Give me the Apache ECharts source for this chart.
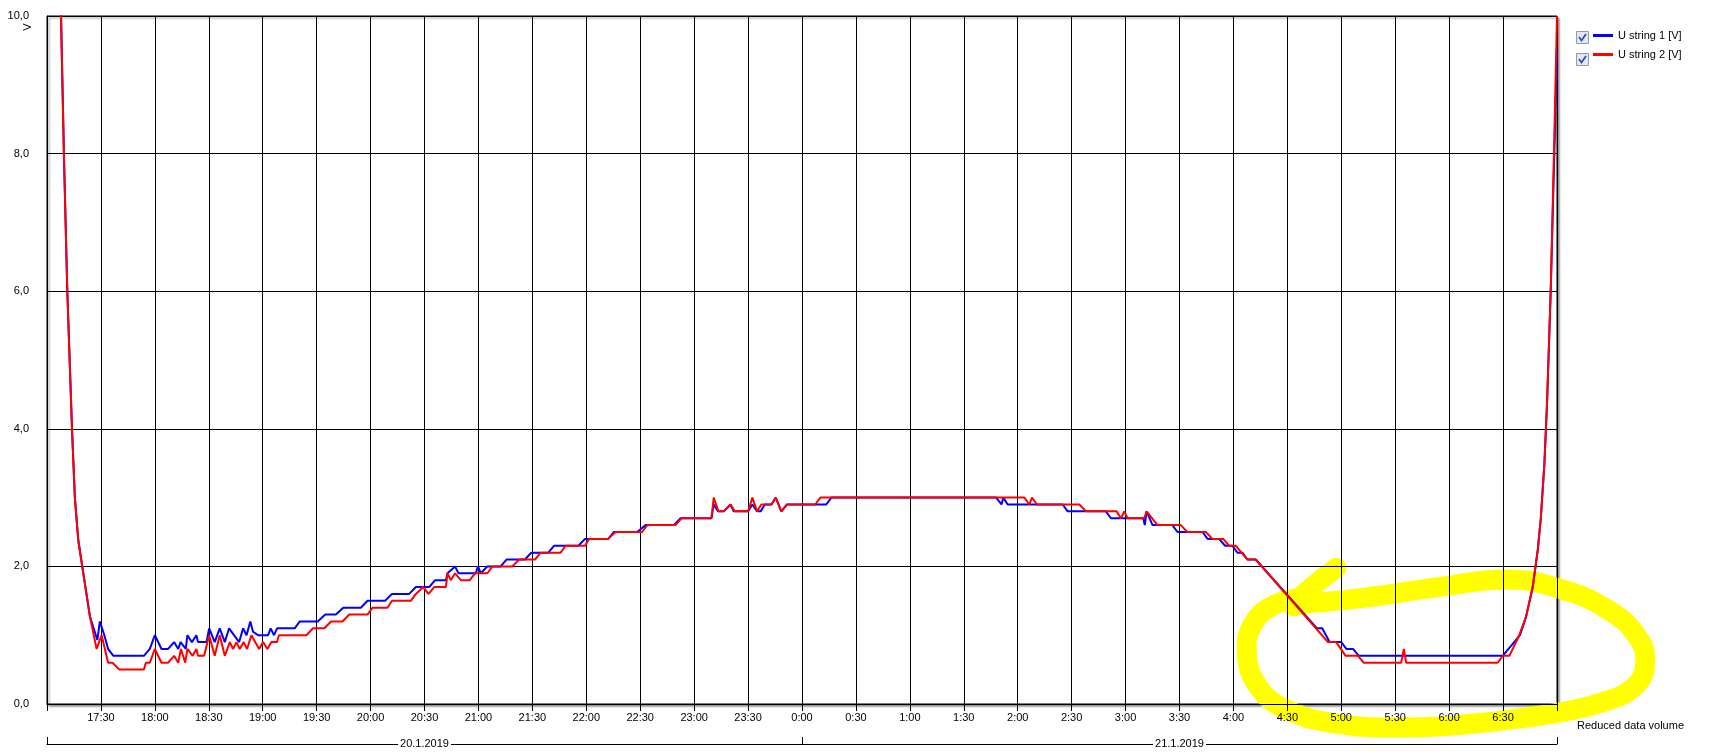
<!DOCTYPE html>
<html>
<head>
<meta charset="utf-8">
<script src="https://cdn.jsdelivr.net/npm/echarts@6/dist/echarts.min.js"></script>
<style>
html,body{margin:0;padding:0;background:#fff;}
#chart{width:1715px;height:754px;}
</style>
</head>
<body>
<div id="chart"></div>
<script>
// Time in minutes after 17:00 on 20.1.2019, value in V
const seriesNames = ['U string 1 [V]', 'U string 2 [V]'];
const dateLabels = ['20.1.2019', '21.1.2019'];
const yUnit = 'V';
const footNote = 'Reduced data volume';
const startHour = 17;

const u1 = [
[6,12.5],[7.8,10],[9.4,8],[11.3,6],[13.9,4],[15.5,3.0],[17.4,2.38],[20.2,1.9],[23.9,1.27],
[28,0.93],[29.4,1.2],[31.9,1.0],[34,0.8],[36.9,0.7],[53.9,0.7],[57.2,0.8],[60,1.0],[63.7,0.8],[67.4,0.8],
[70.7,0.9],[73,0.8],[74.3,0.9],[77.2,0.8],[78.1,1.0],[80.6,0.9],[83.1,1.0],[84,0.9],[88.7,0.9],[90.2,1.1],
[93.3,0.9],[96.1,1.1],[98.9,0.9],[101.3,1.1],[104,1.0],[106.9,0.9],[109.1,1.1],[111,1.0],[113.1,1.2],
[114.6,1.05],[117.4,1.0],[123,1.0],[124.4,1.1],[126.3,1.0],[128,1.1],[137.8,1.1],[140.6,1.2],[150.6,1.2],
[154.8,1.3],[160.7,1.3],[164.8,1.4],[174.6,1.4],[178.3,1.5],[188.1,1.5],[191.9,1.6],[201.5,1.6],[205.2,1.7],
[212.6,1.7],[215.9,1.8],[221.9,1.8],[222.8,1.9],[227,2.0],[228.9,1.9],[238.5,1.9],[239.8,2.0],[241.3,1.9],
[245,2.0],[252.4,2.0],[255.6,2.1],[265.9,2.1],[269.4,2.2],[278.9,2.2],[282,2.3],[295.6,2.3],[299.3,2.4],
[312.2,2.4],[315.4,2.5],[328.3,2.5],[333,2.6],[348.7,2.6],[352.4,2.7],[369.6,2.7],[370.9,2.9],[373.3,2.8],
[376.5,2.8],[380.2,2.9],[382,2.8],[390,2.8],[392.4,2.9],[395,2.8],[397,2.8],[399.3,2.9],[403,2.9],
[405.4,3.0],[408.5,2.8],[411.7,2.9],[433.5,2.9],[436.3,3.0],[528,3.0],[531,2.9],[532,3.0],[534.4,2.9],
[565,2.9],[567.8,2.8],[589,2.8],[591.9,2.7],[609.8,2.7],[610.7,2.6],[611.7,2.8],[615,2.6],[626,2.6],
[628.9,2.5],[642.8,2.5],[645.6,2.4],[652,2.4],[655.4,2.3],[659.4,2.3],[662.2,2.2],[665,2.2],[667.8,2.1],
[672.4,2.1],[706.5,1.1],[709.4,1.1],[713.5,0.9],[720,0.9],[722.8,0.8],[726.5,0.8],[729.8,0.7],[809.8,0.7],
[819.4,1.0],[822.8,1.27],[826.5,1.7],[829.3,2.24],[831,2.7],[833,3.5],[834.5,4.4],[836.5,6.0],[838.5,8.0],[840,9.5]
];

const u2 = [
[6,12.5],[7.8,10],[9.4,8],[11.3,6],[13.9,4],[15.5,3.0],[17.4,2.38],[20.2,1.9],[23.9,1.27],
[27.6,0.8],[28.5,0.8],[30.4,1.0],[34,0.6],[36.5,0.6],[40.2,0.5],[53.9,0.5],[55,0.6],[57.2,0.6],[60,0.8],
[63.7,0.6],[67.4,0.6],[70.7,0.7],[73,0.6],[74.5,0.8],[76.9,0.6],[78.1,0.8],[81,0.7],[83.1,0.8],[84,0.7],
[87.4,0.7],[90.2,1.0],[93.3,0.7],[96.1,1.0],[98.9,0.7],[101.7,0.9],[103.5,0.8],[105.4,0.9],[107.2,0.8],
[109.4,0.9],[111.3,0.8],[113.7,1.0],[118,0.8],[120.2,0.9],[122.6,0.8],[124.8,0.9],[128,0.9],[129,1.0],
[144.3,1.0],[148,1.1],[154.3,1.1],[158,1.2],[164.4,1.2],[168.1,1.3],[178.3,1.3],[181.1,1.4],[189.4,1.4],
[191.9,1.5],[202.4,1.5],[205.2,1.6],[209.3,1.7],[212.2,1.6],[215.4,1.7],[221.9,1.7],[222.8,1.9],[224.6,1.8],
[227,1.9],[230.2,1.8],[235.2,1.8],[238.1,1.9],[245,1.9],[247.8,2.0],[258.9,2.0],[262.6,2.1],[271.5,2.1],
[274.6,2.2],[285.7,2.2],[288.5,2.3],[299.3,2.3],[301.5,2.4],[312.2,2.4],[316.3,2.5],[331.1,2.5],[333.9,2.6],
[349.6,2.6],[353,2.7],[369.6,2.7],[370.9,3.0],[373.5,2.8],[376.3,2.8],[380.3,2.9],[382.6,2.8],[390,2.8],
[392.4,3.0],[395,2.8],[397.4,2.9],[403,2.9],[405.4,3.0],[408.5,2.8],[411.7,2.9],[427.4,2.9],[430.2,3.0],
[543.7,3.0],[546.5,2.9],[547.9,3.0],[550.8,2.9],[574.3,2.9],[578,2.8],[595,2.8],[597.4,2.7],[599.3,2.8],
[601.1,2.7],[610.4,2.7],[611.7,2.8],[617.8,2.6],[630.7,2.6],[634.4,2.5],[644.6,2.5],[648.3,2.4],[654.3,2.4],
[657.6,2.3],[661.3,2.3],[664.5,2.2],[667.8,2.1],[672.4,2.1],[712.6,0.9],[717.2,0.9],[722.4,0.7],[729.3,0.7],
[732.4,0.6],[753.3,0.6],[754.8,0.8],[756.1,0.6],[807,0.6],[809.8,0.7],[813.5,0.7],[819,1.0],[822.8,1.27],
[826.5,1.7],[829.3,2.24],[831,2.7],[833,3.5],[834.5,4.4],[836.5,6.0],[838.3,8.0],[840,10.0]
];

// hand-drawn yellow highlight loop (in chart coordinates: minutes, V)
const highlightPath = [
[717.4,1.98],[693.1,1.44],[701.0,1.46],[734.5,1.55],[777.0,1.71],[813.5,1.81],[840.9,1.68],[867.1,1.39],
[884.7,0.98],[889.0,0.58],[882.9,0.25],[863.4,0.01],[834.8,-0.15],[795.3,-0.28],[755.7,-0.34],[716.2,-0.28],
[688.8,-0.07],[673.6,0.26],[667.5,0.74],[671.1,1.17],[682.7,1.44],[697.9,1.54]
];

function timeLabel(m) {
  if (m <= 0 || m >= 840) return '';
  const t = (startHour * 60 + m) % 1440;
  return Math.floor(t / 60) + ':' + String(t % 60).padStart(2, '0');
}

const chart = echarts.init(document.getElementById('chart'), null, {renderer: 'canvas'});
const font = 'Liberation Sans, Arial, sans-serif';

function checkbox(y) {
  return {
    type: 'group',
    children: [
      {type: 'rect', shape: {x: 1576.5, y: y + 0.5, width: 12, height: 12},
       style: {fill: '#e4e8f0', stroke: '#8c9ab4', lineWidth: 1}},
      {type: 'polyline', shape: {points: [[1579, y + 6], [1581.5, y + 9.5], [1586, y + 3]]},
       style: {stroke: '#2f4fb5', lineWidth: 1.8, fill: null}}
    ]
  };
}

const baseGraphics = [
  {type: 'text', x: 28, y: 27, rotation: Math.PI / 2,
   style: {text: yUnit, fill: '#000', font: '11px ' + font, align: 'center', verticalAlign: 'middle'}},
  {type: 'text', x: 1577, y: 726,
   style: {text: footNote, fill: '#000', font: '11px ' + font, align: 'left', verticalAlign: 'middle'}},
  checkbox(31),
  checkbox(53)
];

const option = {
  animation: false,
  textStyle: {fontFamily: font, fontSize: 11, color: '#000'},
  grid: {
    left: 47, top: 16, width: 1510, height: 688, show: true, z: 0,
    backgroundColor: '#fff', borderColor: '#000', borderWidth: 1,
    shadowColor: 'rgba(0,0,0,0.45)', shadowBlur: 2, shadowOffsetX: 2, shadowOffsetY: 2
  },
  legend: {
    data: seriesNames, orient: 'vertical', left: 1593, top: 30, padding: 0,
    itemWidth: 20, itemHeight: 3, icon: 'rect', itemGap: 8,
    textStyle: {fontFamily: font, fontSize: 11, color: '#000'}, selectedMode: false
  },
  xAxis: [
    {
      type: 'value', min: 0, max: 840, interval: 30, z: 1,
      axisLine: {show: true, onZero: false, lineStyle: {color: '#000', width: 1}},
      axisTick: {show: true, length: 7, lineStyle: {color: '#000'}},
      axisLabel: {formatter: timeLabel, margin: 8, color: '#000', fontSize: 11, fontFamily: font},
      splitLine: {show: true, lineStyle: {color: '#000', width: 1}}
    },
    {
      type: 'value', min: 0, max: 840, position: 'bottom', offset: 40, z: 1,
      axisLine: {show: true, onZero: false, lineStyle: {color: '#000', width: 1}},
      axisTick: {show: true, inside: true, length: 7, customValues: [0, 420, 840], lineStyle: {color: '#000'}},
      axisLabel: {
        show: true, customValues: [210, 630],
        formatter: v => (v < 420 ? dateLabels[0] : dateLabels[1]),
        margin: 0, verticalAlign: 'middle', backgroundColor: '#fff', padding: [0, 2],
        color: '#000', fontSize: 11, fontFamily: font
      },
      splitLine: {show: false}
    }
  ],
  yAxis: {
    type: 'value', min: 0, max: 10, interval: 2, offset: 15, z: 1,
    axisLine: {show: true, lineStyle: {color: '#000', width: 1}},
    axisTick: {show: true, inside: true, length: 7, lineStyle: {color: '#000'}},
    axisLabel: {formatter: v => v.toFixed(1).replace('.', ','), margin: 3, color: '#000', fontSize: 11, fontFamily: font},
    splitLine: {show: true, lineStyle: {color: '#000', width: 1}}
  },
  graphic: baseGraphics,
  series: [
    {
      name: seriesNames[0], type: 'line', data: u1, xAxisIndex: 0, yAxisIndex: 0,
      symbol: 'none', z: 2, lineStyle: {color: '#0000ff', width: 2}, itemStyle: {color: '#0000ff'}
    },
    {
      name: seriesNames[1], type: 'line', data: u2, xAxisIndex: 0, yAxisIndex: 0,
      symbol: 'none', z: 3, lineStyle: {color: '#ff0000', width: 2}, itemStyle: {color: '#ff0000'}
    }
  ]
};
chart.setOption(option);

// yellow marker stroke, positioned through the chart's own scales (not clamped to the axis range)
const hlPixels = highlightPath.map(p => chart.convertToPixel({xAxisIndex: 0, yAxisIndex: 0}, p));
chart.setOption({
  graphic: baseGraphics.concat([{
    type: 'polyline', z: 0.5, silent: true,
    shape: {points: hlPixels, smooth: 0.45},
    style: {stroke: '#ffff00', lineWidth: 20, fill: null, lineCap: 'round', lineJoin: 'round'}
  }])
});
</script>
</body>
</html>
